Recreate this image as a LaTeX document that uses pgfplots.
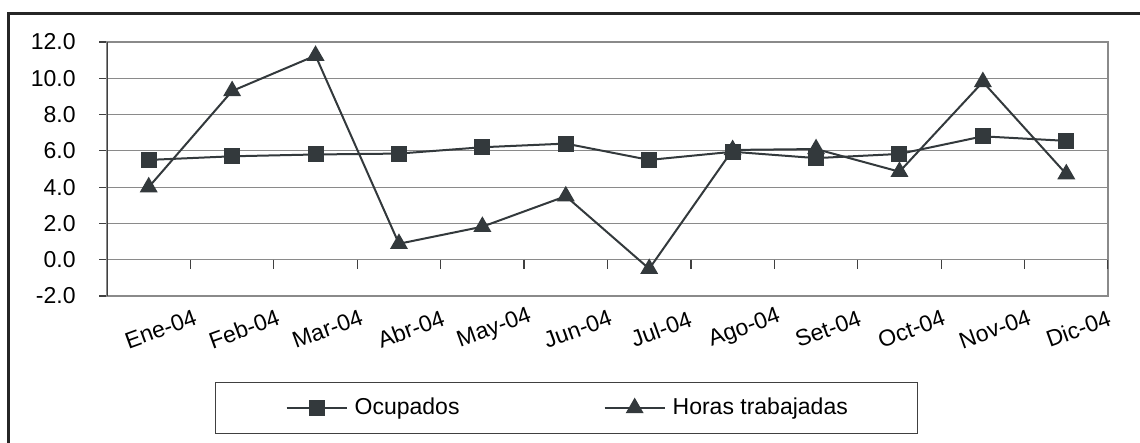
\documentclass[border=0pt]{standalone}
\usepackage{fontspec}
\setmainfont{Liberation Sans}
\usepackage{pgfplots}
\pgfplotsset{compat=1.18}
\definecolor{ln}{HTML}{33393C}
\definecolor{grd}{HTML}{8A8A8A}
\begin{document}
\begin{tikzpicture}
\useasboundingbox (0,0) rectangle (570pt,221.5pt);
\draw[line width=1.5pt, color=black!85] (4.35pt,-2pt) -- (4.35pt,214.85pt) -- (575pt,214.85pt);
\begin{axis}[
  at={(53.5pt,73.5pt)}, anchor=south west,
  scale only axis, width=500.5pt, height=127pt,
  xmin=0.5, xmax=12.5, ymin=-2, ymax=12,
  xtick={1,...,12},
  xticklabels={Ene-04,Feb-04,Mar-04,Abr-04,May-04,Jun-04,Jul-04,Ago-04,Set-04,Oct-04,Nov-04,Dic-04},
  ytick={-2,0,2,4,6,8,10,12},
  ytick pos=left,
  /pgf/number format/.cd, fixed, fixed zerofill, precision=1, assume math mode=true, /pgfplots/.cd,
  ymajorgrids, grid style={color=grd, line width=0.6pt},
  axis line style={color=grd, line width=0.6pt},
  xtick style={draw=none},
  ytick style={color=black!75, line width=0.6pt},
  ytick align=outside, major tick length=4pt,
  tick label style={font=\fontsize{11.5}{13}\selectfont, color=black},
  yticklabel style={anchor=east, inner sep=0pt, xshift=-11.5pt},
  xticklabel style={rotate=20, anchor=center, inner sep=0pt, yshift=-17.5pt},
  legend columns=2,
  legend style={at={(0.4593,-0.441)}, anchor=center, draw=black!75, line width=0.6pt,
    inner xsep=35pt, inner ysep=7.6pt,
    nodes={inner sep=0pt, text depth=0.2em, anchor=west},
    font=\fontsize{11.5}{13}\selectfont,
    /tikz/every odd column/.append style={column sep=3.5pt},
    /tikz/every even column/.append style={column sep=0pt}},
  legend image code/.code={\draw[mark repeat=2,mark phase=2] plot coordinates {(0pt,0pt) (15pt,0pt) (30pt,0pt)};},
]
\draw[color=black!75, line width=0.7pt] (rel axis cs:0,0) -- (rel axis cs:0,1);
\pgfplotsinvokeforeach{1.5,2.5,3.5,4.5,5.5,6.5,7.5,8.5,9.5,10.5,11.5,12.5}{
  \draw[color=black!75, line width=0.6pt] (axis cs:#1,0) -- ([yshift=-4.5pt]axis cs:#1,0);
}
\addplot[color=ln, line width=1pt, mark=square*, mark size=3.5pt, mark options={solid, fill=ln}]
  coordinates {(1,5.5) (2,5.7) (3,5.8) (4,5.85) (5,6.2) (6,6.4) (7,5.5) (8,5.95) (9,5.6) (10,5.83) (11,6.8) (12,6.55)};
\addlegendentry{\makebox[124.5pt][l]{Ocupados}}
\addplot[color=ln, line width=1pt, mark=triangle*, mark size=4.2pt, mark options={solid, fill=ln}]
  coordinates {(1,4.0) (2,9.3) (3,11.25) (4,0.88) (5,1.82) (6,3.5) (7,-0.5) (8,6.05) (9,6.1) (10,4.85) (11,9.8) (12,4.72)};
\addlegendentry{Horas trabajadas}
\end{axis}
\end{tikzpicture}
\end{document}
